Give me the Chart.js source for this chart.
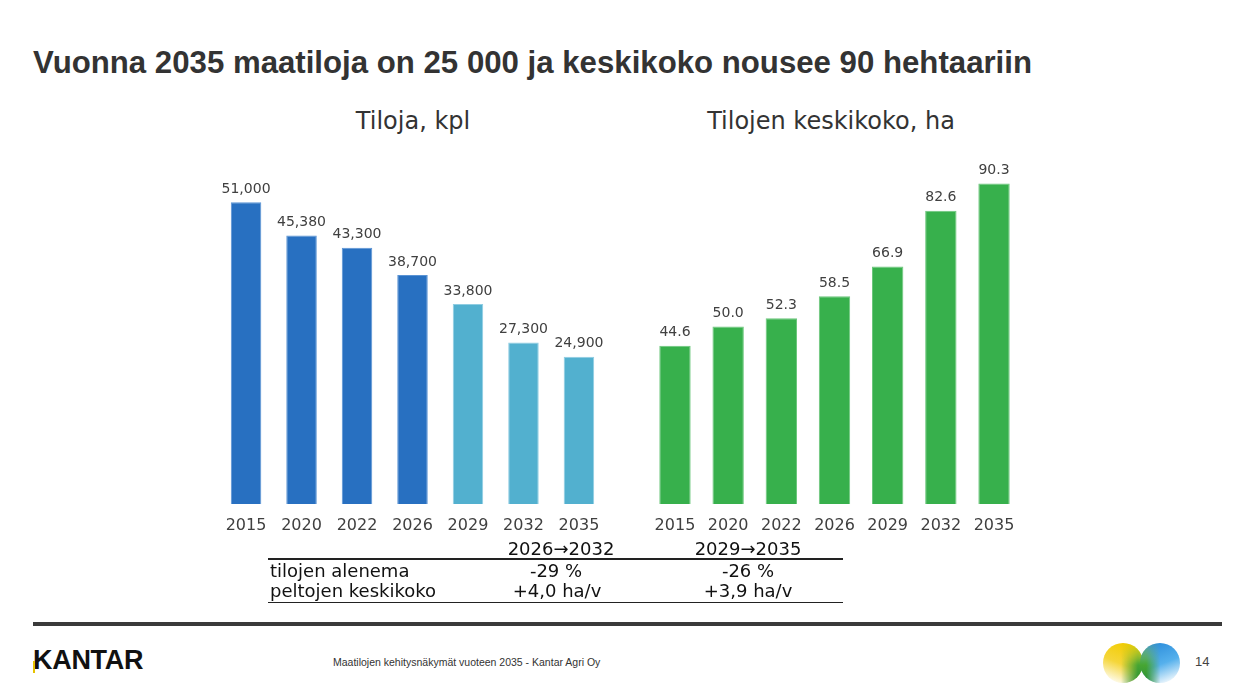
<!DOCTYPE html>
<html>
<head>
<meta charset="utf-8">
<script src="https://cdn.jsdelivr.net/npm/chart.js@4"></script>
<style>
  body { margin: 0; background: #fff; }
  #slide { position: relative; width: 1238px; height: 695px; overflow: hidden; font-family: "DejaVu Sans", Verdana, sans-serif; color: #333; }
  .abs { position: absolute; white-space: nowrap; }
  #title { left: 33px; top: 47px; font: bold 31.2px/31px "Liberation Sans", Arial, sans-serif; color: #333; }
  .sub { top: 109px; font-size: 24px; line-height: 24px; color: #333; transform: translateX(-50%); }
  #leftWrap { left: 214px; top: 149px; width: 397px; height: 395px; }
  #rightWrap { left: 643px; top: 149px; width: 383px; height: 395px; }
  .tbl { font-size: 18px; line-height: 18px; color: #111; }
  .c { transform: translateX(-50%); }
  .hline { position: absolute; height: 1px; background: #222; }
  #footline { left: 33px; top: 622px; width: 1189px; height: 4px; background: #3a3a3a; }
  #kantar { left: 33px; top: 647px; font: bold 27px/27px "Liberation Sans", Arial, sans-serif; color: #111; letter-spacing: -0.3px; }
  #kbar { left: 33px; top: 661px; width: 2px; height: 12px; background: #e6c200; }
  #foot { left: 333px; top: 656px; font: 10.5px "Liberation Sans", Arial, sans-serif; color: #333; }
  #page { left: 1195px; top: 654px; font: 13px "Liberation Sans", Arial, sans-serif; color: #444; }
</style>
</head>
<body>
<div id="slide">
  <div id="title" class="abs">Vuonna 2035 maatiloja on 25 000 ja keskikoko nousee 90 hehtaariin</div>
  <div class="abs sub" style="left:413px">Tiloja, kpl</div>
  <div class="abs sub" style="left:831px">Tilojen keskikoko, ha</div>

  <div id="leftWrap" class="abs"><canvas id="farmsChart"></canvas></div>
  <div id="rightWrap" class="abs"><canvas id="sizeChart"></canvas></div>

  <!-- taulukko kaavioiden alla -->
  <div class="abs tbl c" style="left:561px; top:540px">2026→2032</div>
  <div class="abs tbl c" style="left:748px; top:540px">2029→2035</div>
  <div class="hline" style="left:268px; top:558px; width:575px; height:2px"></div>
  <div class="abs tbl" style="left:270px; top:562px">tilojen alenema</div>
  <div class="abs tbl c" style="left:556px; top:562px">-29 %</div>
  <div class="abs tbl c" style="left:748px; top:562px">-26 %</div>
  <div class="abs tbl" style="left:270px; top:582px">peltojen keskikoko</div>
  <div class="abs tbl c" style="left:557px; top:582px">+4,0 ha/v</div>
  <div class="abs tbl c" style="left:748px; top:582px">+3,9 ha/v</div>
  <div class="hline" style="left:268px; top:602px; width:575px"></div>

  <!-- alatunniste -->
  <div id="footline" class="abs"></div>
  <div id="kantar" class="abs">KANTAR</div>
  <div id="kbar" class="abs"></div>
  <div id="foot" class="abs">Maatilojen kehitysnäkymät vuoteen 2035 - Kantar Agri Oy</div>
  <div id="page" class="abs">14</div>
  <svg class="abs" style="left:1100px; top:640px" width="84" height="48" viewBox="0 0 84 48">
    <defs>
      <linearGradient id="gy" x1="0.6" y1="0" x2="0.2" y2="1">
        <stop offset="0" stop-color="#f2cc00"/>
        <stop offset="0.5" stop-color="#f5d63a"/>
        <stop offset="1" stop-color="#ffffff"/>
      </linearGradient>
      <linearGradient id="gb" x1="0.4" y1="0" x2="0.8" y2="1">
        <stop offset="0" stop-color="#2e8fdc"/>
        <stop offset="0.5" stop-color="#55b0ec"/>
        <stop offset="1" stop-color="#ffffff"/>
      </linearGradient>
      <linearGradient id="gg" x1="0" y1="0" x2="0" y2="1">
        <stop offset="0" stop-color="#9cc83a"/>
        <stop offset="0.5" stop-color="#4aa833"/>
        <stop offset="1" stop-color="#2a8f35"/>
      </linearGradient>
      <linearGradient id="fade" gradientUnits="userSpaceOnUse" x1="0" y1="0" x2="84" y2="0">
        <stop offset="0.25" stop-color="#fff" stop-opacity="0"/>
        <stop offset="0.45" stop-color="#fff" stop-opacity="1"/>
        <stop offset="0.55" stop-color="#fff" stop-opacity="1"/>
        <stop offset="0.72" stop-color="#fff" stop-opacity="0"/>
      </linearGradient>
      <linearGradient id="vfade" gradientUnits="userSpaceOnUse" x1="0" y1="3" x2="0" y2="43">
        <stop offset="0" stop-color="#fff" stop-opacity="0.2"/>
        <stop offset="0.55" stop-color="#fff" stop-opacity="1"/>
      </linearGradient>
      <mask id="mk">
        <rect x="0" y="0" width="84" height="48" fill="url(#fade)"/>
      </mask>
      <mask id="mv">
        <rect x="0" y="0" width="84" height="48" fill="url(#vfade)"/>
      </mask>
    </defs>
    <circle cx="23" cy="23" r="20" fill="url(#gy)"/>
    <circle cx="60" cy="23" r="20" fill="url(#gb)"/>
    <g mask="url(#mv)">
      <g mask="url(#mk)">
        <circle cx="23" cy="23" r="20" fill="url(#gg)"/>
        <circle cx="60" cy="23" r="20" fill="url(#gg)"/>
      </g>
    </g>
  </svg>
</div>

<script>
// Tilojen määrä
const years = ['2015', '2020', '2022', '2026', '2029', '2032', '2035'];
const farmCounts = [51000, 45380, 43300, 38700, 33800, 27300, 24900];
// Tilojen keskikoko, ha
const avgSizes = [44.6, 50.0, 52.3, 58.5, 66.9, 82.6, 90.3];

const darkBlue = '#2870c1';
const lightBlue = '#52b0cf';
const green = '#37b04c';
const farmColors = farmCounts.map((v, i) => i < 4 ? darkBlue : lightBlue);
const farmBorders = farmCounts.map((v, i) => i < 4 ? '#5a93d4' : '#8fcde2');

// arvot pylväiden yläpuolelle
const barLabels = {
    id: 'barLabels',
    afterDatasetsDraw(chart, args, opts) {
        const ctx = chart.ctx;
        const meta = chart.getDatasetMeta(0);
        const data = chart.data.datasets[0].data;
        ctx.save();
        ctx.font = '14px "DejaVu Sans", Verdana, sans-serif';
        ctx.fillStyle = '#404040';
        ctx.textAlign = 'center';
        ctx.textBaseline = 'bottom';
        meta.data.forEach((bar, i) => {
            ctx.fillText(opts.format(data[i]), bar.x, bar.y - 6);
        });
        ctx.restore();
    }
};

function makeChart(id, values, colors, borders, maxY, fmt, barPct) {
    return new Chart(document.getElementById(id), {
        type: 'bar',
        data: {
            labels: years,
            datasets: [{
                data: values,
                backgroundColor: colors,
                borderColor: borders,
                borderWidth: 1,
                barPercentage: barPct,
                categoryPercentage: 1
            }]
        },
        options: {
            responsive: true,
            maintainAspectRatio: false,
            animation: false,
            layout: { padding: 0 },
            plugins: {
                legend: { display: false },
                tooltip: { enabled: false },
                barLabels: { format: fmt }
            },
            scales: {
                y: {
                    display: false,
                    min: 0,
                    max: maxY
                },
                x: {
                    grid: { display: false, drawTicks: false },
                    border: { display: false },
                    ticks: {
                        padding: 12,
                        color: '#404040',
                        font: { family: '"DejaVu Sans", Verdana, sans-serif', size: 16 }
                    },
                    afterFit(scale) { scale.height = 40; }
                }
            }
        },
        plugins: [barLabels]
    });
}

makeChart('farmsChart', farmCounts, farmColors, farmBorders, 60000,
    v => v.toLocaleString('en-US'), 0.55);
makeChart('sizeChart', avgSizes, avgSizes.map(() => green), avgSizes.map(() => '#6cc77c'), 100,
    v => v.toFixed(1), 0.59);
</script>
</body>
</html>
